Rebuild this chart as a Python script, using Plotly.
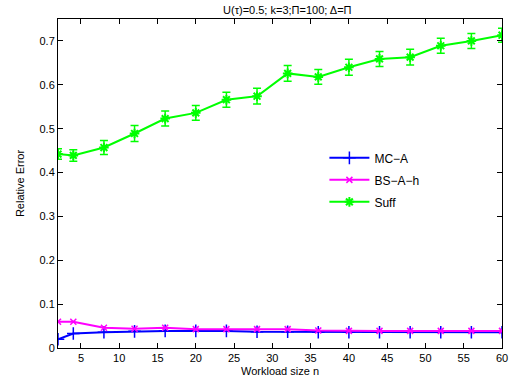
import plotly.graph_objects as go

workload_n = [2, 4, 8, 12, 16, 20, 24, 28, 32, 36, 40, 44, 48, 52, 56, 60]
mc_a = [0.020, 0.033, 0.036, 0.038, 0.039, 0.039, 0.039, 0.037, 0.037, 0.036, 0.036, 0.036, 0.036, 0.036, 0.036, 0.036]
bs_a_h = [0.060, 0.060, 0.046, 0.044, 0.046, 0.043, 0.043, 0.043, 0.043, 0.040, 0.039, 0.039, 0.039, 0.039, 0.039, 0.039]
suff = [0.442, 0.439, 0.457, 0.489, 0.523, 0.536, 0.566, 0.574, 0.626, 0.618, 0.640, 0.659, 0.663, 0.689, 0.700, 0.713]
suff_err = [0.012, 0.013, 0.016, 0.018, 0.017, 0.017, 0.017, 0.018, 0.018, 0.017, 0.018, 0.017, 0.018, 0.017, 0.017, 0.016]

x_ticks = [5, 10, 15, 20, 25, 30, 35, 40, 45, 50, 55, 60]
y_ticks = [0, 0.1, 0.2, 0.3, 0.4, 0.5, 0.6, 0.7]
y_tick_labels = ["0", "0.1", "0.2", "0.3", "0.4", "0.5", "0.6", "0.7"]

FONT = "Liberation Sans, Arial, sans-serif"

fig = go.Figure()
fig.add_trace(go.Scatter(
    x=workload_n, y=mc_a, name="MC\u2212A", mode="lines+markers", legendgroup="g1",
    line=dict(color="#0000FF", width=2),
    marker=dict(symbol="cross-thin", size=9, line=dict(color="#0000FF", width=1.5)),
))
fig.add_trace(go.Scatter(
    x=workload_n, y=bs_a_h, name="BS\u2212A\u2212h", mode="lines+markers", legendgroup="g2",
    line=dict(color="#FF00FF", width=2),
    marker=dict(symbol="x-thin", size=6, line=dict(color="#FF00FF", width=1.5)),
))
fig.add_trace(go.Scatter(
    x=workload_n, y=suff, name="Suff", mode="lines+markers", legendgroup="g3",
    line=dict(color="#00FF00", width=2),
    marker=dict(symbol="asterisk-open", size=8, line=dict(color="#00FF00", width=2)),
    error_y=dict(type="data", array=suff_err, visible=True, color="#00FF00", thickness=1.5, width=4),
))

axis_common = dict(
    showline=True, linecolor="black", linewidth=1, mirror="ticks",
    ticks="inside", ticklen=5, tickcolor="black", showgrid=False, zeroline=False,
    automargin=False,
    tickfont=dict(family=FONT, size=11, color="black"),
)

fig.update_layout(
    width=513, height=387,
    margin=dict(l=58, r=11, t=19, b=39),
    plot_bgcolor="white", paper_bgcolor="white",
    title=dict(text="U(\u03c4)=0.5; k=3;\u03a0=100; \u0394=\u03a0", x=0.56, xanchor="center",
               y=0.985, yanchor="top", automargin=False,
               font=dict(family=FONT, size=11, color="black")),
    xaxis=dict(range=[2, 60], tickvals=x_ticks,
               title=dict(text="Workload size n", standoff=4,
                          font=dict(family=FONT, size=11, color="black")),
               **axis_common),
    yaxis=dict(range=[0, 0.75], tickvals=y_ticks, ticktext=y_tick_labels,
               title=dict(text="Relative Error", standoff=12,
                          font=dict(family=FONT, size=11, color="black")),
               **axis_common),
    legend=dict(x=0.600, y=0.622, xanchor="left", yanchor="top",
                bgcolor="rgba(255,255,255,1)", borderwidth=0,
                font=dict(family=FONT, size=12, color="black"),
                traceorder="grouped", tracegroupgap=3, itemwidth=40),
    showlegend=True,
)

fig.write_html("out.html")
